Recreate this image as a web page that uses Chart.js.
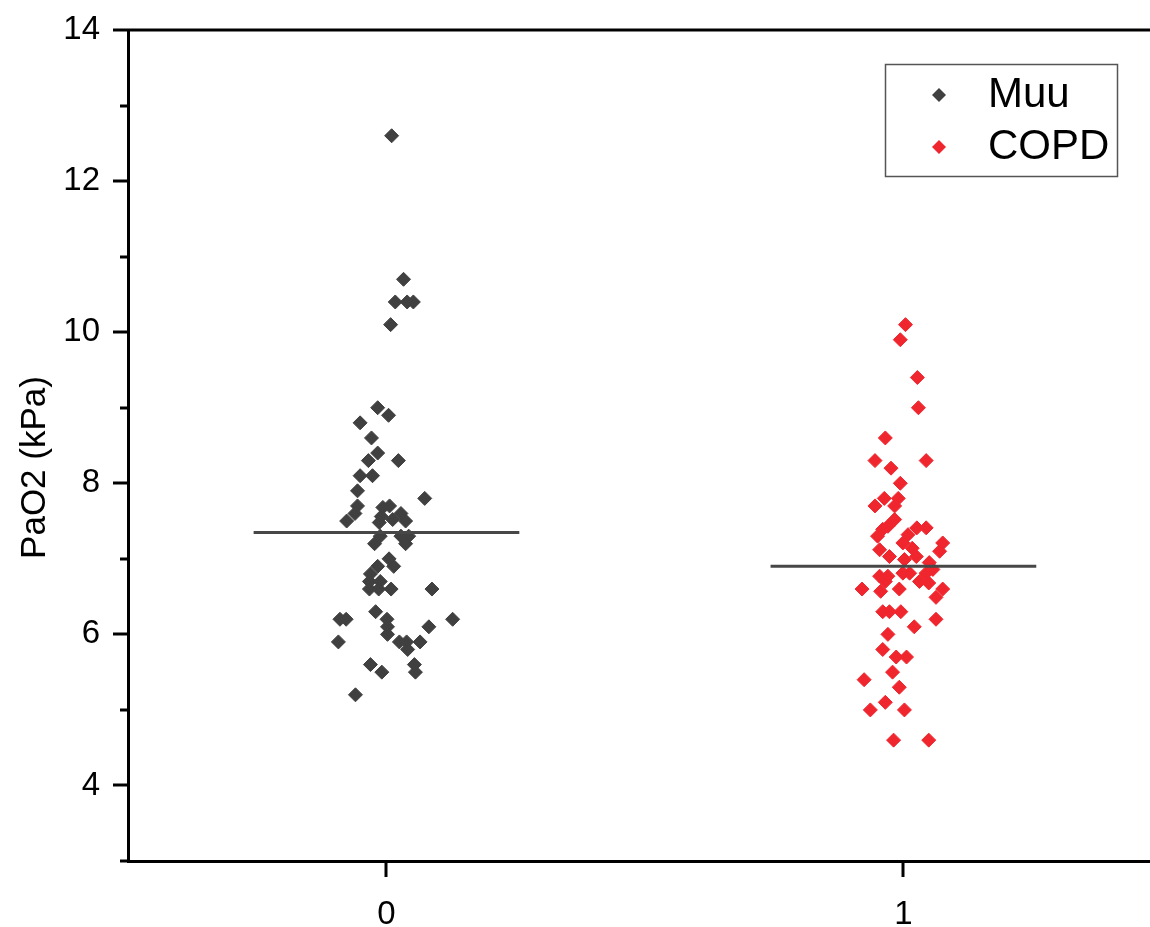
<!DOCTYPE html>
<html>
<head>
<meta charset="utf-8">
<script src="https://cdn.jsdelivr.net/npm/chart.js@4.4.0/dist/chart.umd.min.js"></script>
<style>
  html, body { margin: 0; padding: 0; background: #fff; overflow: hidden; }
  #wrap { width: 1150px; height: 927px; }
</style>
</head>
<body>
<div id="wrap"><canvas id="pao2chart"></canvas></div>
<script>
// groups on the x axis
const groupNames = ['Muu', 'COPD'];
const groupCodes = [0, 1];

// PaO2 (kPa) per patient, with the horizontal jitter
const muuJitter = [0.010, 0.033, 0.017, 0.040, 0.052, 0.008, -0.017, 0.004, -0.051, -0.029,
  -0.017, -0.035, 0.023, -0.051, -0.027, -0.056, 0.074, -0.056, -0.061, -0.077,
  -0.007, 0.006, -0.010, 0.028, -0.014, 0.012, 0.037, -0.023, -0.012, 0.028,
  0.043, 0.037, 0.005, 0.014, -0.017, -0.031, -0.033, -0.012, -0.033, -0.015,
  0.009, 0.088, -0.021, -0.090, -0.078, 0.128, 0.001, 0.002, 0.082, 0.002,
  0.025, -0.093, 0.039, 0.065, 0.041, -0.031, 0.054, -0.009, 0.056, -0.060];
const muuPaO2 = [12.6, 10.7, 10.4, 10.4, 10.4, 10.1, 9.0, 8.9, 8.8, 8.6,
  8.4, 8.3, 8.3, 8.1, 8.1, 7.9, 7.8, 7.7, 7.6, 7.5,
  7.68, 7.7, 7.56, 7.6, 7.48, 7.52, 7.5, 7.2, 7.3, 7.3,
  7.3, 7.2, 7.0, 6.9, 6.9, 6.8, 6.7, 6.7, 6.6, 6.6,
  6.6, 6.6, 6.3, 6.2, 6.2, 6.2, 6.2, 6.1, 6.1, 6.0,
  5.9, 5.9, 5.9, 5.9, 5.8, 5.6, 5.6, 5.5, 5.5, 5.2];

const copdJitter = [0.004, -0.006, 0.027, 0.029, -0.035, -0.055, 0.044, -0.024, -0.006, -0.037,
  -0.010, -0.055, -0.017, -0.017, -0.030, -0.040, -0.050, 0.026, 0.044, 0.009,
  -0.001, -0.046, 0.076, 0.070, -0.027, 0.017, 0.025, 0.050, 0.002, -0.046,
  -0.030, -0.001, 0.012, 0.044, 0.057, -0.080, -0.035, -0.044, -0.008, 0.031,
  0.049, 0.076, 0.063, -0.040, -0.027, -0.005, 0.063, 0.021, -0.030, -0.040,
  -0.014, 0.006, -0.021, -0.076, -0.008, -0.035, -0.064, 0.002, -0.019, 0.049];
const copdPaO2 = [10.1, 9.9, 9.4, 9.0, 8.6, 8.3, 8.3, 8.2, 8.0, 7.8,
  7.8, 7.7, 7.7, 7.52, 7.43, 7.39, 7.3, 7.41, 7.41, 7.32,
  7.21, 7.12, 7.21, 7.1, 7.03, 7.14, 7.03, 6.95, 6.99, 6.77,
  6.77, 6.81, 6.81, 6.81, 6.86, 6.6, 6.7, 6.57, 6.6, 6.7,
  6.68, 6.6, 6.49, 6.3, 6.3, 6.3, 6.2, 6.1, 6.0, 5.8,
  5.7, 5.7, 5.5, 5.4, 5.3, 5.1, 5.0, 5.0, 4.6, 4.6];

// group means shown as horizontal bars
const groupMeans = [7.35, 6.9];

// axis ticks
const yTickValues = [3, 4, 5, 6, 7, 8, 9, 10, 11, 12, 13, 14];
const yLabelledTicks = [4, 6, 8, 10, 12, 14];
const xTickValues = [0, 1];

const FONT = 'Arial, "Liberation Sans", sans-serif';
const colors = ['#404040', '#f0262f'];
const meanHalfWidth = 0.257;

function toPoints(code, jitter, vals) {
    return vals.map((v, i) => ({ x: code + jitter[i], y: v }));
}

function meanLine(i) {
    return {
        type: 'line',
        label: groupNames[i] + ' mean',
        data: [{ x: groupCodes[i] - meanHalfWidth, y: groupMeans[i] },
               { x: groupCodes[i] + meanHalfWidth, y: groupMeans[i] }],
        borderColor: '#474747',
        borderWidth: 3,
        pointRadius: 0,
        showLine: true,
        order: 0
    };
}

// ticks, frame, axis title and legend, drawn like the original Origin plot
const decorations = {
    id: 'decorations',
    afterDraw: chart => {
        const ctx = chart.ctx;
        const area = chart.chartArea;
        const ys = chart.scales.y;
        const xs = chart.scales.x;
        ctx.save();
        ctx.strokeStyle = '#000';
        ctx.lineWidth = 3;
        ctx.lineCap = 'butt';

        // y ticks, long on labelled values
        ys.ticks.forEach(t => {
            const py = Math.round(ys.getPixelForValue(t.value));
            const len = yLabelledTicks.includes(t.value) ? 15 : 8;
            ctx.beginPath();
            ctx.moveTo(area.left - len, py);
            ctx.lineTo(area.left, py);
            ctx.stroke();
        });
        // x ticks
        xs.ticks.forEach(t => {
            const px = Math.round(xs.getPixelForValue(t.value));
            ctx.beginPath();
            ctx.moveTo(px, area.bottom);
            ctx.lineTo(px, area.bottom + 16);
            ctx.stroke();
        });
        // top frame
        ctx.beginPath();
        ctx.moveTo(area.left, Math.round(area.top));
        ctx.lineTo(area.right, Math.round(area.top));
        ctx.stroke();

        // y axis title
        ctx.fillStyle = '#000';
        ctx.font = '35px ' + FONT;
        ctx.textAlign = 'center';
        ctx.textBaseline = 'middle';
        ctx.translate(35, (area.top + area.bottom) / 2 + 22);
        ctx.rotate(-Math.PI / 2);
        ctx.fillText('PaO2 (kPa)', 0, 0);
        ctx.restore();

        // legend box
        ctx.save();
        ctx.strokeStyle = '#555';
        ctx.lineWidth = 1.5;
        ctx.strokeRect(885.5, 64.5, 232, 112);
        ctx.font = '42px ' + FONT;
        ctx.textAlign = 'left';
        ctx.textBaseline = 'middle';
        const rows = [95, 147];
        groupNames.forEach((name, i) => {
            const cy = rows[i];
            const r = 7;
            ctx.fillStyle = colors[i];
            ctx.beginPath();
            ctx.moveTo(939 - r, cy);
            ctx.lineTo(939, cy - r);
            ctx.lineTo(939 + r, cy);
            ctx.lineTo(939, cy + r);
            ctx.closePath();
            ctx.fill();
            ctx.fillStyle = '#000';
            ctx.fillText(name, 988, cy);
        });
        ctx.restore();
    }
};

const pctx = document.getElementById('pao2chart').getContext('2d');
const pchart = new Chart(pctx, {
    type: 'scatter',
    plugins: [decorations],
    data: {
        datasets: [
            meanLine(0),
            meanLine(1),
            {
                label: groupNames[0],
                data: toPoints(groupCodes[0], muuJitter, muuPaO2),
                pointStyle: 'rectRot',
                pointRadius: 7,
                pointBorderWidth: 1,
                backgroundColor: colors[0],
                borderColor: colors[0],
                order: 1
            },
            {
                label: groupNames[1],
                data: toPoints(groupCodes[1], copdJitter, copdPaO2),
                pointStyle: 'rectRot',
                pointRadius: 7,
                pointBorderWidth: 1,
                backgroundColor: colors[1],
                borderColor: colors[1],
                order: 1
            }
        ]
    },
    options: {
        responsive: true,
        maintainAspectRatio: false,
        animation: false,
        layout: { autoPadding: false, padding: { top: 30, right: 0, bottom: 0, left: 0 } },
        plugins: {
            legend: { display: false },
            title: { display: false },
            tooltip: { enabled: false }
        },
        scales: {
            x: {
                type: 'linear',
                min: -0.5,
                max: 1.477,
                afterBuildTicks: s => { s.ticks = xTickValues.map(v => ({ value: v })); },
                afterFit: s => { s.height = 66; s.paddingLeft = 0; s.paddingRight = 0; },
                grid: { display: false, drawTicks: true, tickLength: 16 },
                border: { display: true, color: '#000', width: 3 },
                ticks: {
                    color: '#000',
                    font: { family: FONT, size: 33 },
                    padding: 18,
                    maxRotation: 0
                }
            },
            y: {
                min: 3,
                max: 14,
                afterBuildTicks: s => { s.ticks = yTickValues.map(v => ({ value: v })); },
                afterFit: s => { s.width = 128; s.paddingTop = 0; s.paddingBottom = 0; },
                grid: { display: false, drawTicks: true, tickLength: 15 },
                border: { display: true, color: '#000', width: 3 },
                ticks: {
                    color: '#000',
                    font: { family: FONT, size: 33 },
                    padding: 13,
                    callback: v => yLabelledTicks.includes(v) ? String(v) : ''
                }
            }
        }
    }
});
</script>
</body>
</html>
